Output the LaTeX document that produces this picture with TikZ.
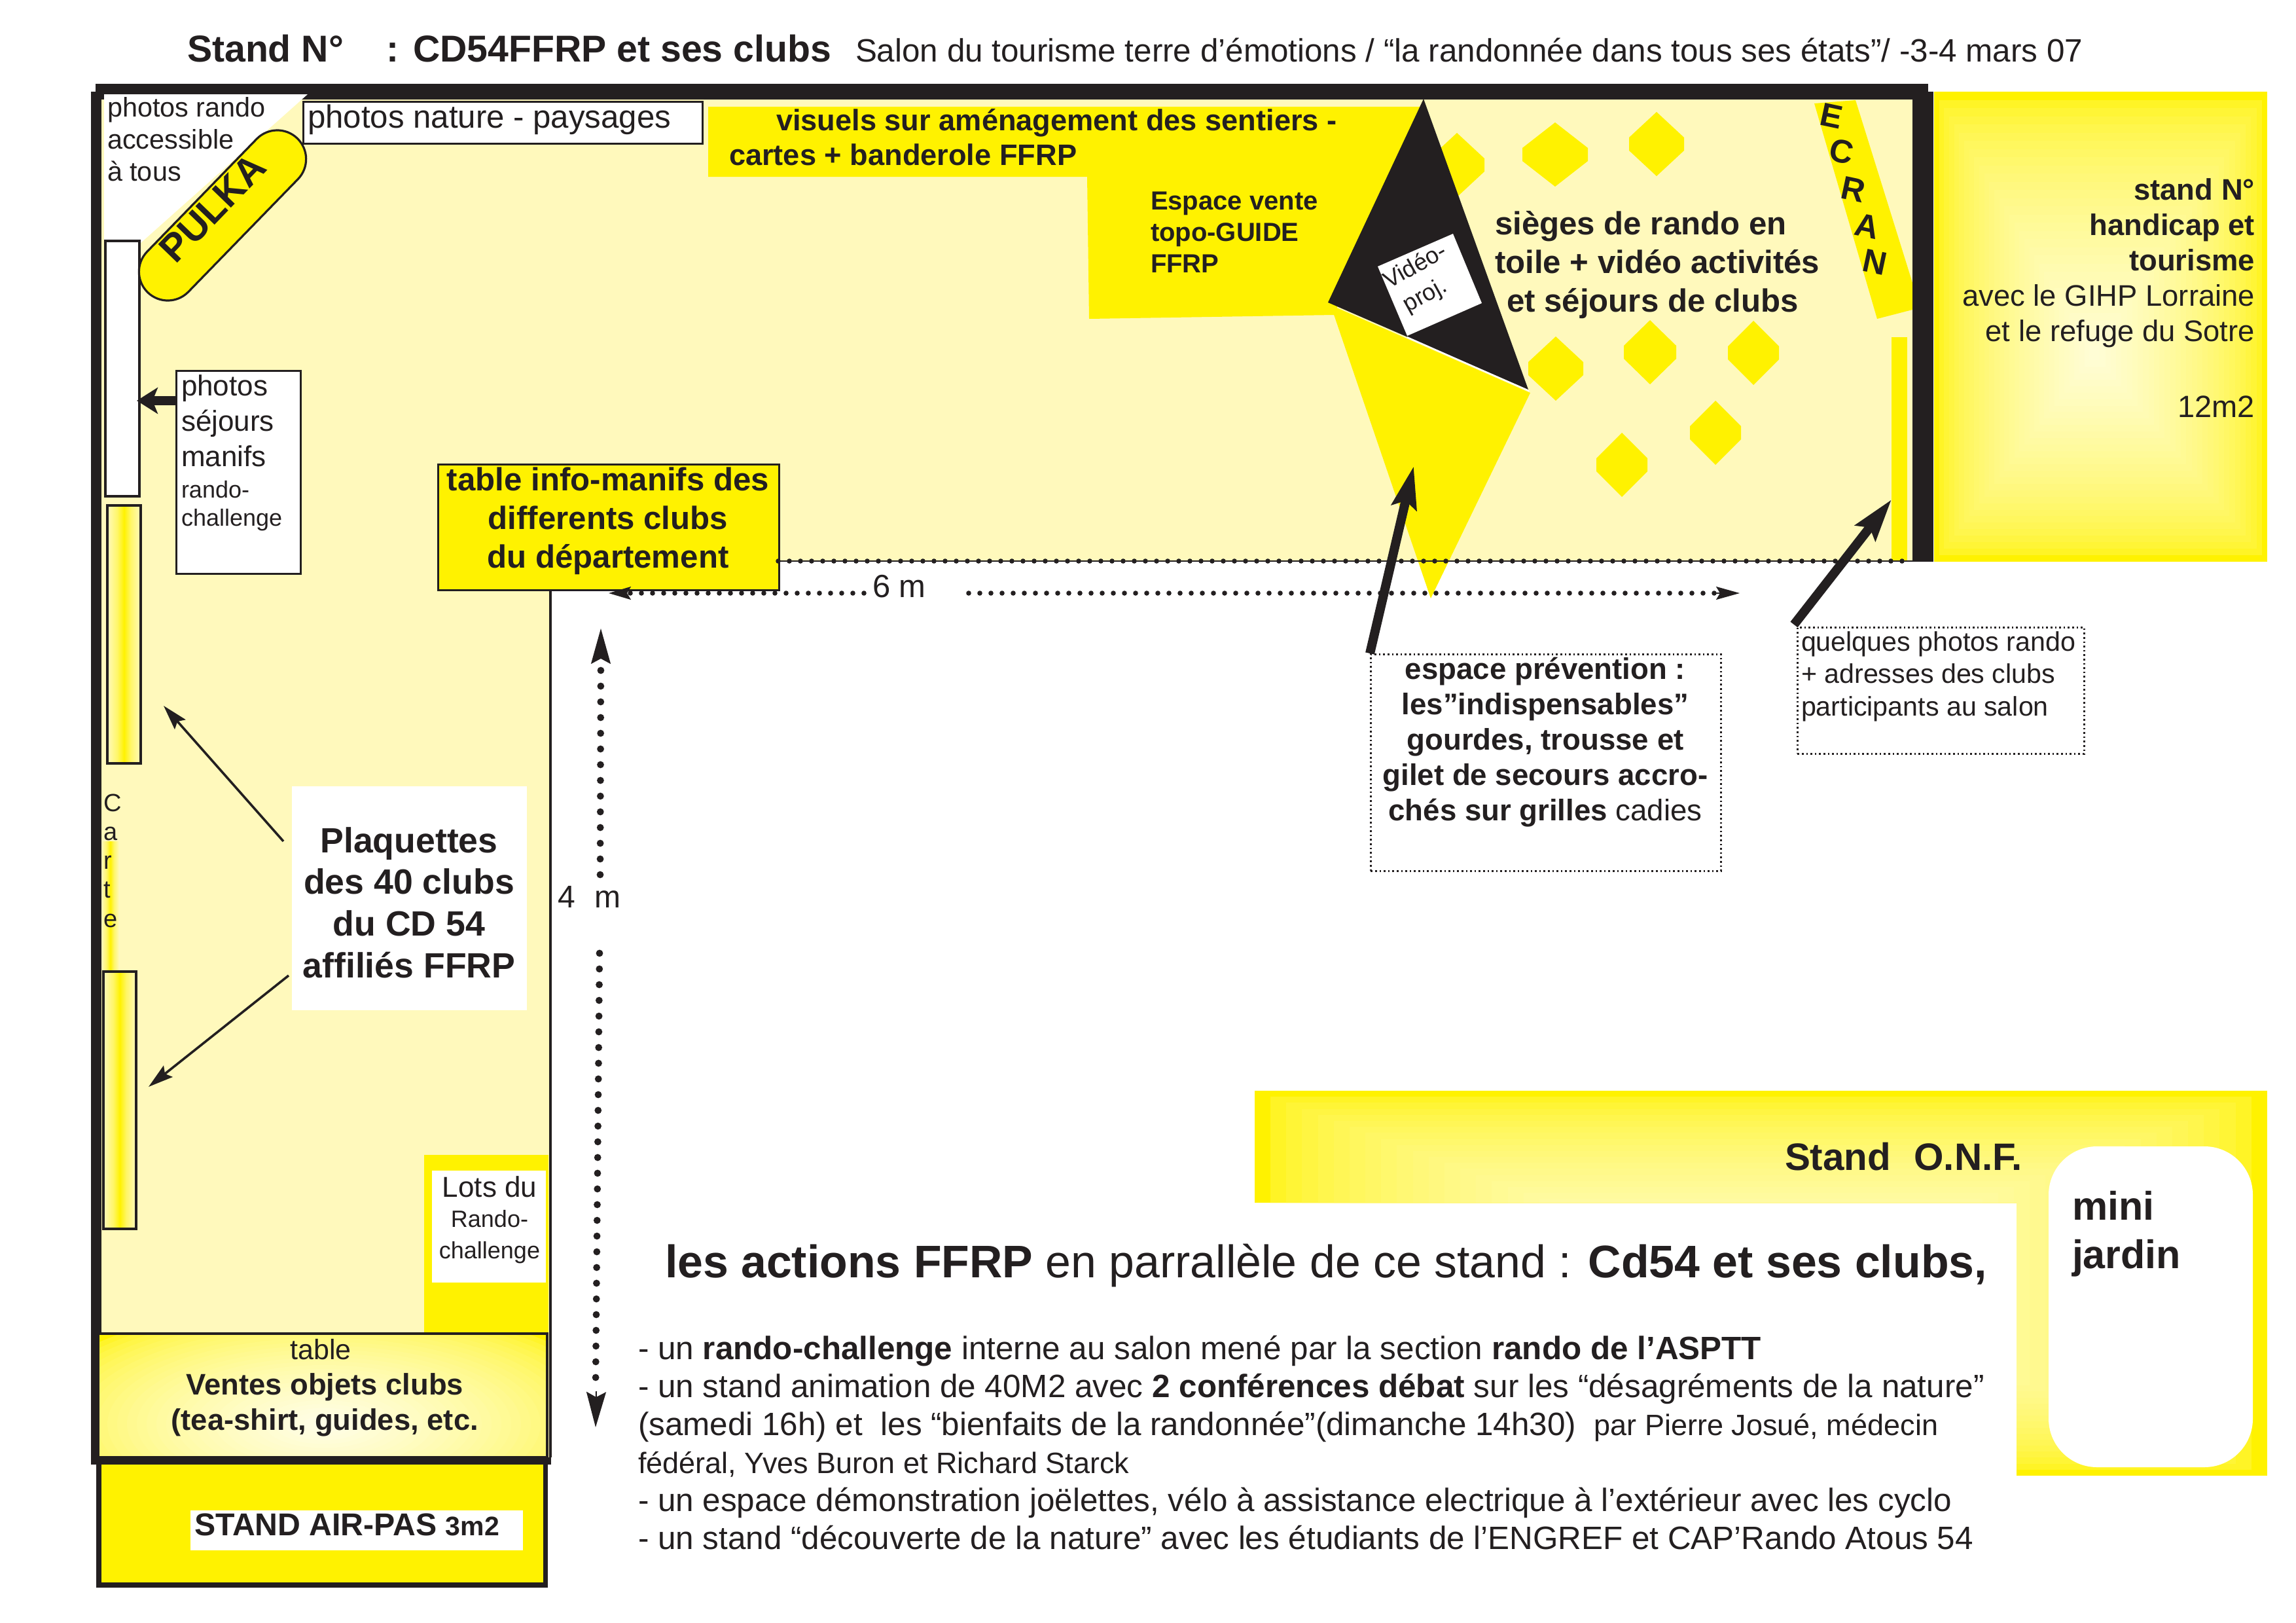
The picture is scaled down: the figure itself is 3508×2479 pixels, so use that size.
\documentclass[tikz,border=0pt]{standalone}
\usepackage{fontspec}
\setmainfont{Liberation Sans}
\usetikzlibrary{arrows.meta}
\definecolor{yel}{HTML}{FFF200}
\definecolor{pale}{HTML}{FFF9BC}
\definecolor{ink}{HTML}{231F20}
\colorlet{midyel}{yel!45!pale}
\pgfdeclarehorizontalshading{panelshade}{100bp}{color(0bp)=(pale); color(25bp)=(pale); color(40bp)=(midyel); color(50bp)=(yel); color(60bp)=(midyel); color(75bp)=(pale); color(100bp)=(pale)}
\newcommand\fsz[2]{\fontsize{#1}{#2}\selectfont}
% rectangular gradient: nested rectangles shrinking to a centre point
\newcommand\rectgrad[7]{%
  \foreach \gi in {0,...,32}{%
    \pgfmathsetmacro\gt{\gi/32}%
    \pgfmathsetmacro\gmix{100-#7*sqrt(\gt)}%
    \fill[yel!\gmix!white] ({#1+(#5-#1)*\gt},{#2+(#6-#2)*\gt}) rectangle ({#3+(#5-#3)*\gt},{#4+(#6-#4)*\gt});
  }}
% elliptic gradient: nested ellipses round a centre point
\newcommand\ellgrad[5]{%
  \foreach \gi in {0,...,32}{%
    \pgfmathsetmacro\gt{\gi/32}%
    \pgfmathsetmacro\gmix{100-#5*sqrt(\gt)}%
    \pgfmathsetmacro\grx{#3*(1-\gt)+1}%
    \pgfmathsetmacro\gry{#4*(1-\gt)+1}%
    \fill[yel!\gmix!white] (#1,#2) ellipse [x radius=\grx*0.5pt,y radius=\gry*0.5pt];
  }}
\tikzset{
  lab/.style={inner sep=0pt,outer sep=0pt,text=ink,anchor=base west,align=left},
  labc/.style={inner sep=0pt,outer sep=0pt,text=ink,anchor=base,align=center},
  labr/.style={inner sep=0pt,outer sep=0pt,text=ink,anchor=base east,align=right},
  boxline/.style={draw=ink,line width=1.6pt},
  dotbox/.style={draw=ink,line width=1.3pt,dash pattern=on 1.3pt off 2pt},
  fatarrow/.style={draw=ink,line width=7pt,-{Stealth[length=32pt,width=19pt,inset=5pt]}},
  thinarrow/.style={draw=ink,line width=1.8pt,-{Stealth[length=19pt,width=11pt,inset=3pt]}},
  hdots/.style={draw=ink,line width=3.8pt,line cap=round,dash pattern=on 0pt off 8.5pt},
  vdots/.style={draw=ink,line width=5.4pt,line cap=round,dash pattern=on 0pt off 12pt},
  stripe/.style={shading=panelshade},
}
\begin{document}
\begin{tikzpicture}[x=0.5pt,y=-0.5pt]
\useasboundingbox (0,0) rectangle (3508,2479);
\fill[white] (0,0) rectangle (3508,2479);

% floor of the stand
\fill[pale] (155,152) -- (2922,152) -- (2922,857) -- (1189,857) -- (1189,900) -- (843,900) -- (843,2226) -- (155,2226) -- cycle;

% seats
\foreach \cx/\cy/\hw in {2226/252/42,2376/236/50,2531/220/42,2377/563/42,2521/538/40,2679/539/39,2621/661/39,2478/710/39}{
  \fill[yel] (\cx,\cy-49) -- (\cx+\hw,\cy-10) -- (\cx+\hw,\cy+10) -- (\cx,\cy+49) -- (\cx-\hw,\cy+10) -- (\cx-\hw,\cy-10) -- cycle;
}

% yellow zones of the top leg
\fill[yel] (1082,163) -- (2172,163) -- (2038,481) -- (1664,487) -- (1661,270) -- (1082,270) -- cycle;
\fill[yel] (2033,466) -- (2338,600) -- (2186,914) -- cycle;
\fill[ink] (2175,151) -- (2335,595) -- (2029,462) -- cycle;
\draw[white,line width=1pt] (2150,515) -- (2336,597);
\fill[white] (2105,407) -- (2220,357) -- (2264,463) -- (2150,513) -- cycle;
\fill[yel] (2772,158) -- (2835,153) -- (2922,432) -- (2922,473) -- (2868,487) -- cycle;
\fill[yel] (2890,515) rectangle (2914,857);

% neighbouring stands
\rectgrad{2955}{140}{3464}{858}{3200}{540}{85}
\begin{scope}
  \clip (1917,1666) -- (3464,1666) -- (3464,2254) -- (3081,2254) -- (3081,1837) -- (1917,1837) -- cycle;
  \rectgrad{1917}{1666}{3464}{2254}{2690}{1960}{85}
\end{scope}
\fill[white,rounded corners=37pt] (3130,1751) rectangle (3442,2241);

% walls
\fill[ink] (146,128) rectangle (2946,152);
\fill[ink] (2922,140) rectangle (2954,858);
\fill[ink] (139,140) rectangle (155,2226);
\fill[white] (159,144) -- (470,144) -- (215,371) -- (159,371) -- cycle;

% left wall panels
\shade[stripe] (155,1285) rectangle (182,1482);
\fill[white] (161,368) rectangle (213,758);
\draw[boxline] (161,368) rectangle (213,758);
\shade[stripe] (164,772) rectangle (215,1166);
\draw[boxline] (164,772) rectangle (215,1166);
\shade[stripe] (158,1484) rectangle (208,1877);
\draw[boxline] (158,1484) rectangle (208,1877);

% right edge of the left leg
\draw[ink,line width=1.6pt] (841,900) -- (841,2226);

% Lots du
\fill[yel] (648,1764) rectangle (838,2037);
\fill[white] (660,1788) rectangle (834,1959);

% sales table
\begin{scope}
  \clip (150,2037) rectangle (836,2226);
  \fill[yel] (150,2037) rectangle (836,2226);
  \ellgrad{495}{2175}{480}{190}{92}
\end{scope}
\draw[ink,line width=1.6pt] (150,2037) rectangle (836,2226);

% AIR-PAS stand
\fill[ink] (139,2226) rectangle (842,2237);
\fill[ink] (147,2226) rectangle (837,2425);
\fill[yel] (155,2237) rectangle (830,2417);
\fill[white] (291,2307) rectangle (799,2368);

% title
\node[lab,font=\bfseries\fsz{28.6}{34}] (title) at (286,94) {Stand N°\hspace{25pt} : CD54FFRP et ses clubs};
\node[lab,font=\fsz{24.7}{30}] (subtitle) at (1307,94) {Salon du tourisme terre d’émotions / “la randonnée dans tous ses états”/ -3-4 mars 07};

% top-left
\node[lab,font=\fsz{20.7}{24.5}] (rando) at (164,276) {photos rando\\accessible\\à tous};
\node[boxline,fill=white,minimum width=305pt,minimum height=32pt,inner sep=0pt,anchor=north west] (nature) at (462,154) {};
\node[lab,font=\fsz{24.6}{29}] (naturetxt) at (470,195) {photos nature - paysages};
\node[boxline,fill=yel,rounded corners=22pt,rotate=45.8,minimum width=164pt,minimum height=44pt,inner sep=0pt] (pulka) at (340,329) {};
\node[inner sep=0pt,text=ink,font=\bfseries\fsz{29.5}{36},rotate=46] (pulkatxt) at (325,318) {PULKA};

% photos sejours
\node[boxline,fill=white,minimum width=95pt,minimum height=155pt,inner sep=0pt,anchor=north west] (sejours) at (268,565) {};
\node[lab,font=\fsz{22}{27}] (sejourstxt) at (277,803) {photos\\séjours\\manifs\\[-3pt]{\fsz{18}{22}rando-}\\[-5.5pt]{\fsz{18}{21.5}challenge}};
\coordinate (panelin) at (209,612);
\draw[draw=ink,line width=7pt,-{Stealth[length=16pt,width=20pt,inset=4pt]}] (sejours.west |- panelin) -- (panelin);

% carte
\node[lab,font=\fsz{19}{22.1}] (carte) at (158,1416) {C\\a\\r\\t\\e};

% table info
\node[boxline,fill=yel,minimum width=260.5pt,minimum height=96pt,inner sep=0pt,anchor=north west] (info) at (668,708) {};
\node[labc,font=\bfseries\fsz{24.6}{29.5}] (infotxt) at (929,867) {table info-manifs des\\differents clubs\\du département};

% plaquettes
\node[fill=white,minimum width=179.5pt,minimum height=171pt,inner sep=0pt,anchor=north west] (plaq) at (446,1201) {};
\node[labc,font=\bfseries\fsz{26.8}{31.8}] (plaqtxt) at (625,1493) {Plaquettes\\des 40 clubs\\du CD 54\\affiliés FFRP};
\coordinate (plaqA) at (433,1285);
\coordinate (plaqB) at (441,1490);
\coordinate (panelA) at (250,1078);
\coordinate (panelB) at (227,1660);
\draw[thinarrow] (plaqA) -- (panelA);
\draw[thinarrow] (plaqB) -- (panelB);

% lots du text
\node[labc,font=\fsz{22}{25}] (lots) at (748,1922) {Lots du\\[-2pt]{\fsz{18}{23}Rando-}\\[-1pt]{\fsz{18}{22}challenge}};

% table text
\node[labc,font=\fsz{21.5}{27}] (tabletxt) at (490,2184) {table\\{\bfseries\fsz{22.7}{27.5} Ventes objets clubs}\\{\bfseries\fsz{22.7}{27.5} (tea-shirt, guides, etc.}};
\node[lab,font=\bfseries\fsz{24.1}{28}] (airpas) at (297,2345) {STAND AIR-PAS {\fsz{20.5}{28}3m2}};

% dimension lines
\coordinate (wallL) at (1189,857);
\coordinate (wallR) at (2922,857);
\draw[ink,line width=0.9pt] (wallL) -- (wallR);
\draw[hdots] (wallL) -- (wallR);
\coordinate (sixA) at (1320,906);
\coordinate (sixB) at (945,906);
\coordinate (sixC) at (1480,906);
\coordinate (sixD) at (2624,906);
\node[labc,font=\fsz{24.5}{29}] (sixm) at (1374,912) {6 m};
\draw[hdots] (sixA) -- (sixB);
\draw[hdots] (sixC) -- (sixD);
\coordinate (sixHeadA) at (948,906);
\coordinate (sixTipA) at (930,906);
\draw[draw=ink,line width=1pt,-{Stealth[length=17pt,width=10pt,inset=3pt]}] (sixHeadA) -- (sixTipA);
\coordinate (sixHeadB) at (2620,906);
\coordinate (sixTipB) at (2658,906);
\draw[draw=ink,line width=1pt,-{Stealth[length=18pt,width=10pt,inset=3pt]}] (sixHeadB) -- (sixTipB);

\node[lab,font=\fsz{24}{29}] (four) at (852,1386) {4\hspace{15pt}m};
\coordinate (fourA) at (917,1336);
\coordinate (fourB) at (918,1000);
\coordinate (fourTipA) at (918,960);
\coordinate (fourC) at (916,1456);
\coordinate (fourD) at (910,2116);
\coordinate (fourE) at (911,2125);
\coordinate (fourTipB) at (910,2180);
\draw[vdots] (fourA) -- (fourB);
\draw[vdots] (fourC) -- (fourD);
\draw[draw=ink,line width=1pt,-{Stealth[length=27pt,width=15pt,inset=4pt]}] (fourB) -- (fourTipA);
\draw[draw=ink,line width=1pt,-{Stealth[length=27pt,width=15pt,inset=4pt]}] (fourE) -- (fourTipB);

% top leg texts
\node[lab,font=\bfseries\fsz{22.6}{26.5}] (visuels) at (1186,199) {visuels sur aménagement des sentiers -};
\node[lab,font=\bfseries\fsz{22.6}{26.5}] (cartes) at (1114,252) {cartes + banderole FFRP};
\node[lab,font=\bfseries\fsz{20}{24}] (vente) at (1758,416) {Espace vente\\topo-GUIDE\\FFRP};
\node[inner sep=0pt,text=ink,font=\fsz{18}{23},rotate=29,align=left] (video) at (2174,428) {Vidéo-\\\hspace*{4pt}proj.};
\node[lab,font=\bfseries\fsz{24.6}{29.5}] (sieges) at (2284,476) {sièges de rando en\\toile + vidéo activités\\\hspace*{9pt}et séjours de clubs};
\foreach \ltr/\lx/\ly in {E/2798/177,C/2814/231,R/2832/289,A/2853/345,N/2865/400}{
  \node[inner sep=0pt,text=ink,font=\bfseries\fsz{25}{30},rotate=-12] (ecran\ltr) at (\lx,\ly) {\ltr};
}

% handicap stand text
\node[labr,font=\fsz{22.7}{27}] (handicap) at (3445,521) {{\bfseries stand N°}\\{\bfseries handicap et}\\{\bfseries tourisme}\\avec le GIHP Lorraine\\et le refuge du Sotre};
\node[labr,font=\fsz{23.5}{27}] (surface) at (3445,637) {12m2};

% callouts
\node[dotbox,minimum width=267.5pt,minimum height=165.5pt,inner sep=0pt,anchor=north west] (prev) at (2093,998) {};
\node[labc,font=\bfseries\fsz{22.8}{27}] (prevtxt) at (2361,1253) {espace prévention :\\les”indispensables”\\gourdes, trousse et\\gilet de secours accro-\\chés sur grilles {\mdseries cadies}};
\node[dotbox,minimum width=219pt,minimum height=96.5pt,inner sep=0pt,anchor=north west] (quelques) at (2745,957) {};
\node[lab,font=\fsz{20.6}{24.7}] (quelquestxt) at (2752,1093) {quelques photos rando\\+ adresses des clubs\\participants au salon};
\coordinate (prevTip) at (2160,712);
\coordinate (queTip) at (2890,763);
\draw[fatarrow] (prev.north west) -- (prevTip);
\draw[fatarrow] (quelques.north west) ++(-4,-3) coordinate (queFrom) -- (queTip);

% lower right
\node[lab,font=\bfseries\fsz{29.2}{34}] (onf) at (2727,1787) {Stand\hspace{9.5pt} O.N.F.};
\node[lab,font=\bfseries\fsz{30.5}{37}] (jardin) at (3166,1937) {mini\\jardin};
\node[lab,font=\fsz{34.9}{40}] (actions) at (1016,1951) {{\bfseries les actions FFRP} en parrallèle de ce stand : {\bfseries Cd54 et ses clubs,}};
\node[lab,font=\fsz{24.7}{29}] (list) at (975,2366) {- un {\bfseries rando-challenge} interne au salon mené par la section {\bfseries rando de l’ASPTT}\\
- un stand animation de 40M2 avec {\bfseries 2 conférences débat} sur les “désagréments de la nature”\\
(samedi 16h) et\ \ les “bienfaits de la randonnée”(dimanche 14h30)\ \ {\fsz{22.5}{29}par Pierre Josué, médecin}\\
{\fsz{22.5}{29}fédéral, Yves Buron et Richard Starck}\\
- un espace démonstration joëlettes, vélo à assistance electrique à l’extérieur avec les cyclo\\
- un stand “découverte de la nature” avec les étudiants de l’ENGREF et CAP’Rando Atous 54};
\end{tikzpicture}
\end{document}
